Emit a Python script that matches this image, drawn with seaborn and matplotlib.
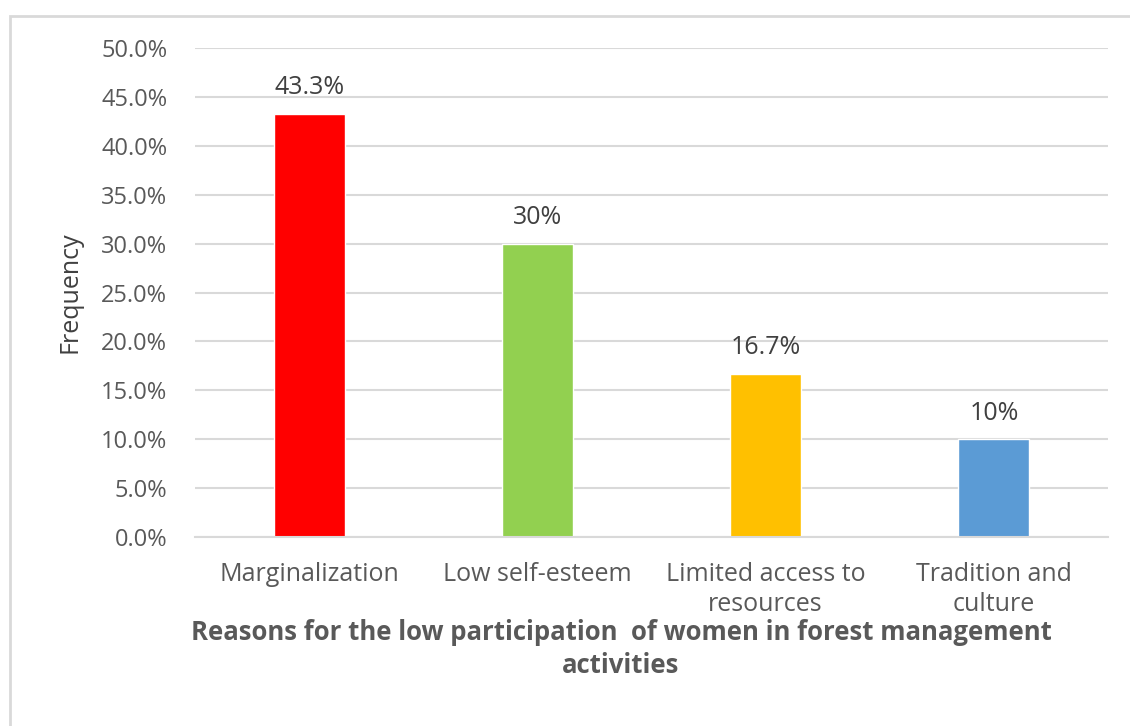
import matplotlib
matplotlib.use("Agg")
import matplotlib.pyplot as plt
from matplotlib.patches import Rectangle
from matplotlib.ticker import FuncFormatter
import seaborn as sns
import pandas as pd

# donnees
reasons = ["Marginalization", "Low self-esteem", "Limited access to\nresources", "Tradition and\nculture"]
frequency = [43.3, 30.0, 16.7, 10.0]
value_labels = ["43.3%", "30%", "16.7%", "10%"]
colors = ["#FF0000", "#92D050", "#FFC000", "#5B9BD5"]

df = pd.DataFrame({"reason": reasons, "frequency": frequency})

sns.set_style("white")
plt.rcParams["font.family"] = ["Open Sans", "DejaVu Sans"]

fig = plt.figure(figsize=(11.3, 7.26), dpi=100)
ax = fig.add_axes([195 / 1130, 189 / 726, 913 / 1130, 489 / 726])

sns.barplot(data=df, x="reason", y="frequency", hue="reason", palette=colors,
            width=0.31, legend=False, ax=ax, saturation=1)

ax.set_ylim(0, 50)
ax.set_yticks(range(0, 51, 5))
ax.yaxis.set_major_formatter(FuncFormatter(lambda v, p: "%.1f%%" % v))
ax.grid(axis="y", color="#d9d9d9", linewidth=1.5)
ax.set_axisbelow(True)
for s in ["top", "right", "left"]:
    ax.spines[s].set_visible(False)
ax.spines["bottom"].set_color("#d9d9d9")
ax.spines["bottom"].set_linewidth(1.5)
ax.tick_params(axis="y", length=0, labelsize=17, labelcolor="#595959", pad=20)
ax.tick_params(axis="x", length=0, labelsize=18, labelcolor="#595959", pad=18)
for t in ax.get_xticklabels():
    t.set_linespacing(1.25)
ax.set_xlabel("")
ax.set_ylabel("")

# etiquettes des valeurs
for i, v in enumerate(frequency):
    ax.text(i, v + 1.4, value_labels[i], ha="center", va="bottom",
            fontsize=18, color="#404040")

fig.text(70 / 1130, 1 - 292 / 726, "Frequency", rotation=90, ha="center",
         va="center", fontsize=18, color="#404040")
fig.text(621 / 1130, 1 - 649 / 726,
         "Reasons for the low participation  of women in forest management\nactivities",
         ha="center", va="center", fontsize=18.5, fontweight="bold",
         color="#595959", linespacing=1.25)

# cadre du graphique
fig.patches.append(Rectangle((10 / 1130, -0.1), 1.2, 1.1 - 16 / 726, fill=False,
                             edgecolor="#d9d9d9", linewidth=2,
                             transform=fig.transFigure, figure=fig))

fig.savefig("out.png", dpi=100)
